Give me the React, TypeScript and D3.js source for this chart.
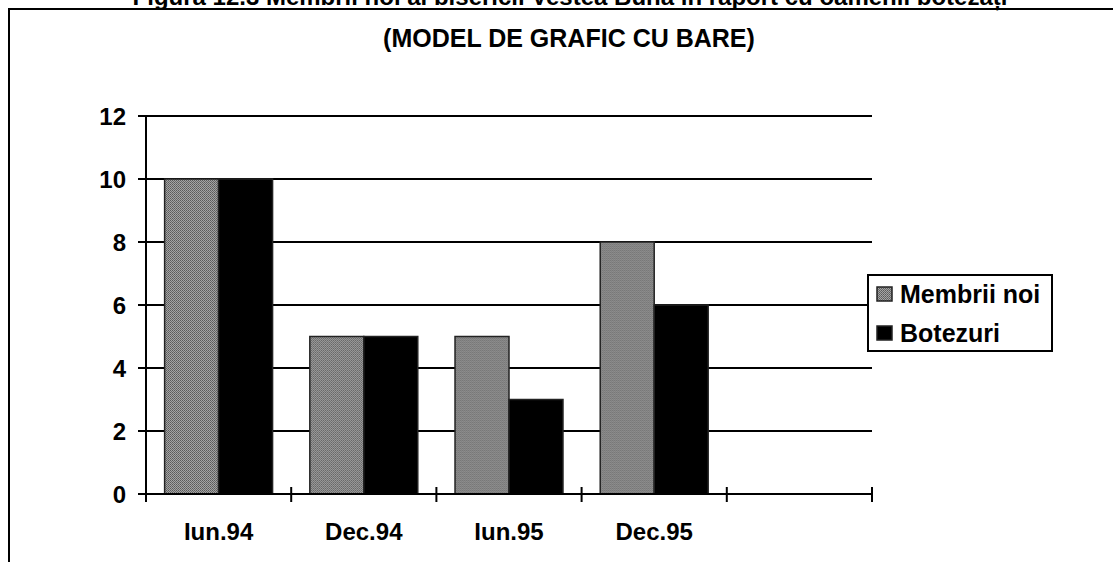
import React, { useEffect, useRef } from "react";
import * as d3 from "d3";

const categories = ["Iun.94", "Dec.94", "Iun.95", "Dec.95"];
const slots = 5; // the last slot on the axis is left empty
const seriesNames = ["Membrii noi", "Botezuri"];
const membriiNoi = [10, 5, 5, 8];
const botezuri = [10, 5, 3, 6];
const yTicks = [0, 2, 4, 6, 8, 10, 12];

const pageTitle =
  "Figura 12.3 Membrii noi ai bisericii Vestea Bună în raport cu oamenii botezați";
const chartTitle = "(MODEL DE GRAFIC CU BARE)";

const App = () => {
  const graph = useRef<HTMLDivElement>(null);

  useEffect(() => {
    const root = d3.select(graph.current);
    root.selectAll("*").remove();

    const width = 1113;
    const height = 562;
    const font = "'Liberation Sans', Arial, sans-serif";

    const svg = root
      .append("svg")
      .attr("width", width)
      .attr("height", height)
      .style("position", "absolute")
      .style("left", 0)
      .style("top", 0)
      .style("background", "#fff");

    // fine hatch for the grey series
    const pat = svg
      .append("defs")
      .append("pattern")
      .attr("id", "hatch")
      .attr("patternUnits", "userSpaceOnUse")
      .attr("width", 2)
      .attr("height", 2);
    pat.append("rect").attr("width", 2).attr("height", 2).attr("fill", "#a4a4a4");
    pat.append("rect").attr("width", 1).attr("height", 1).attr("fill", "#5a5a5a");
    pat.append("rect").attr("x", 1).attr("y", 1).attr("width", 1).attr("height", 1).attr("fill", "#6a6a6a");

    // outer frame (runs off the page on the right and bottom)
    svg
      .append("rect")
      .attr("x", 9)
      .attr("y", 9)
      .attr("width", 1300)
      .attr("height", 700)
      .attr("fill", "none")
      .attr("stroke", "#000")
      .attr("stroke-width", 2);

    // page caption, cut by the top edge as in the scan
    svg
      .append("text")
      .attr("x", 570)
      .attr("y", 5)
      .attr("text-anchor", "middle")
      .attr("font-family", font)
      .attr("font-weight", "bold")
      .attr("font-size", 24)
      .text(pageTitle);

    svg
      .append("text")
      .attr("x", 569)
      .attr("y", 47)
      .attr("text-anchor", "middle")
      .attr("font-family", font)
      .attr("font-weight", "bold")
      .attr("font-size", 25)
      .text(chartTitle);

    const left = 146;
    const right = 872;
    const y = d3.scaleLinear().domain([0, 12]).range([494, 116]);
    const x0 = d3
      .scaleBand<number>()
      .domain(d3.range(slots))
      .range([left, right])
      .padding(0);
    const x1 = d3
      .scaleBand<string>()
      .domain(seriesNames)
      .range([0, x0.bandwidth()])
      .paddingInner(0)
      .paddingOuter(0.345);

    // gridlines
    svg
      .append("g")
      .selectAll("line")
      .data(yTicks.filter((t) => t > 0))
      .join("line")
      .attr("x1", left)
      .attr("x2", right)
      .attr("y1", (d) => y(d))
      .attr("y2", (d) => y(d))
      .attr("stroke", "#000")
      .attr("stroke-width", 2);

    // bars
    const values = [membriiNoi, botezuri];
    const fills = ["url(#hatch)", "#000"];
    svg
      .append("g")
      .selectAll("g")
      .data(categories)
      .join("g")
      .attr("transform", (_, i) => `translate(${x0(i)},0)`)
      .selectAll("rect")
      .data((_, i) => seriesNames.map((s, k) => ({ s, k, v: values[k][i] })))
      .join("rect")
      .attr("x", (d) => x1(d.s)!)
      .attr("y", (d) => y(d.v))
      .attr("width", x1.bandwidth())
      .attr("height", (d) => y(0) - y(d.v))
      .attr("fill", (d) => fills[d.k])
      .attr("stroke", "#222")
      .attr("stroke-width", 1.5);

    // y axis
    svg
      .append("line")
      .attr("x1", left)
      .attr("x2", left)
      .attr("y1", y(12))
      .attr("y2", y(0) + 8)
      .attr("stroke", "#000")
      .attr("stroke-width", 2);
    const yAx = svg.append("g");
    yAx
      .selectAll("line")
      .data(yTicks)
      .join("line")
      .attr("x1", left - 8)
      .attr("x2", left)
      .attr("y1", (d) => y(d))
      .attr("y2", (d) => y(d))
      .attr("stroke", "#000")
      .attr("stroke-width", 2);
    yAx
      .selectAll("text")
      .data(yTicks)
      .join("text")
      .attr("x", 126)
      .attr("y", (d) => y(d))
      .attr("dy", "0.36em")
      .attr("text-anchor", "end")
      .attr("font-family", font)
      .attr("font-weight", "bold")
      .attr("font-size", 24)
      .text((d) => d);

    // x axis
    svg
      .append("line")
      .attr("x1", left)
      .attr("x2", right)
      .attr("y1", y(0))
      .attr("y2", y(0))
      .attr("stroke", "#000")
      .attr("stroke-width", 2);
    svg
      .append("g")
      .selectAll("line")
      .data(d3.range(slots + 1))
      .join("line")
      .attr("x1", (i) => left + i * x0.step())
      .attr("x2", (i) => left + i * x0.step())
      .attr("y1", y(0) - 7)
      .attr("y2", y(0) + 8)
      .attr("stroke", "#000")
      .attr("stroke-width", 2);
    svg
      .append("g")
      .selectAll("text")
      .data(categories)
      .join("text")
      .attr("x", (_, i) => x0(i)! + x0.bandwidth() / 2)
      .attr("y", 540)
      .attr("text-anchor", "middle")
      .attr("font-family", font)
      .attr("font-weight", "bold")
      .attr("font-size", 24)
      .text((d) => d);

    // legend
    const lg = svg.append("g");
    lg.append("rect")
      .attr("x", 868)
      .attr("y", 275)
      .attr("width", 184)
      .attr("height", 76)
      .attr("fill", "#fff")
      .attr("stroke", "#000")
      .attr("stroke-width", 2);
    const items = lg
      .selectAll("g")
      .data(seriesNames)
      .join("g")
      .attr("transform", (_, i) => `translate(877,${294 + i * 39})`);
    items
      .append("rect")
      .attr("x", 0)
      .attr("y", -7)
      .attr("width", 15)
      .attr("height", 14)
      .attr("fill", (_, i) => fills[i])
      .attr("stroke", "#222")
      .attr("stroke-width", 1.5);
    items
      .append("text")
      .attr("x", 23)
      .attr("y", 9)
      .attr("font-family", font)
      .attr("font-weight", "bold")
      .attr("font-size", 25)
      .text((d) => d);
  }, []);

  return <div ref={graph}></div>;
};

export default App;
